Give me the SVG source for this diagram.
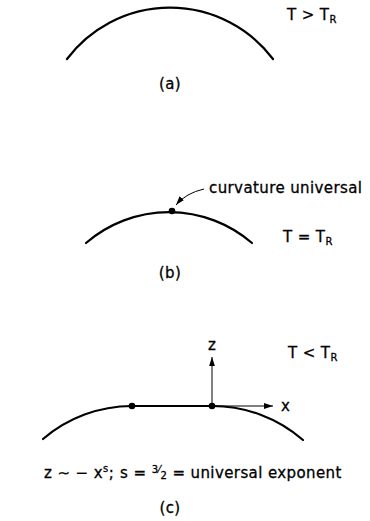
<svg xmlns="http://www.w3.org/2000/svg" width="370" height="521" viewBox="0 0 370 521">
<defs>
<style>
text{font-family:"DejaVu Sans","Liberation Sans",sans-serif;font-size:15px;fill:#000;stroke:#000;stroke-width:0.3;letter-spacing:0.4px}
.curve{fill:none;stroke:#000;stroke-width:2.2;stroke-linecap:round}
.thin{fill:none;stroke:#000;stroke-width:1}
.mid{text-anchor:middle}
.sub{font-size:10px}
</style>
<marker id="ah" viewBox="0 0 10 10" refX="10" refY="5" markerWidth="9" markerHeight="9" markerUnits="userSpaceOnUse" orient="auto">
<path d="M0,1.8 L10,5 L0,8.2 Z" fill="#000"/>
</marker>
</defs>
<rect width="370" height="521" fill="#fff"/>

<g id="panel-a">
<path class="curve" d="M67,59 A129,129 0 0 1 273,59"/>
<text x="287" y="20">T &gt; T<tspan class="sub" dy="3">R</tspan></text>
<text class="mid" x="170" y="89">(a)</text>
</g>

<g id="panel-b">
<path class="curve" d="M86,243 A127,127 0 0 1 252,243"/>
<circle cx="172" cy="211" r="3.3" fill="#000"/>
<text x="209" y="193">curvature universal</text>
<text x="283" y="242">T = T<tspan class="sub" dy="3">R</tspan></text>
<text class="mid" x="170" y="278">(b)</text>
</g>

<g id="panel-c">
<path class="curve" d="M43,439 A137,137 0 0 1 132,406 L212,406 A138,138 0 0 1 303,440"/>
<circle cx="132" cy="406" r="3.3" fill="#000"/>
<circle cx="212" cy="406" r="3.3" fill="#000"/>
<text x="208" y="350">z</text>
<text x="281" y="411">x</text>
<text x="288" y="358">T &lt; T<tspan class="sub" dy="3">R</tspan></text>
<text x="44" y="478">z ∼ − x<tspan class="sub" dy="-6">s</tspan><tspan dy="6">;</tspan><tspan dx="6">s = </tspan><tspan class="sub" dy="-5">3</tspan><tspan class="sub">⁄</tspan><tspan class="sub" dy="6">2</tspan><tspan dy="-1"> = universal exponent</tspan></text>
<text class="mid" x="170" y="513">(c)</text>
</g>

<g id="connectors">
<path class="thin" d="M204,189 Q186,193 176,205" marker-end="url(#ah)"/>
<path class="thin" d="M212,406 L212,357" marker-end="url(#ah)"/>
<path class="thin" d="M212,406 L273,406" marker-end="url(#ah)"/>
</g>
</svg>
